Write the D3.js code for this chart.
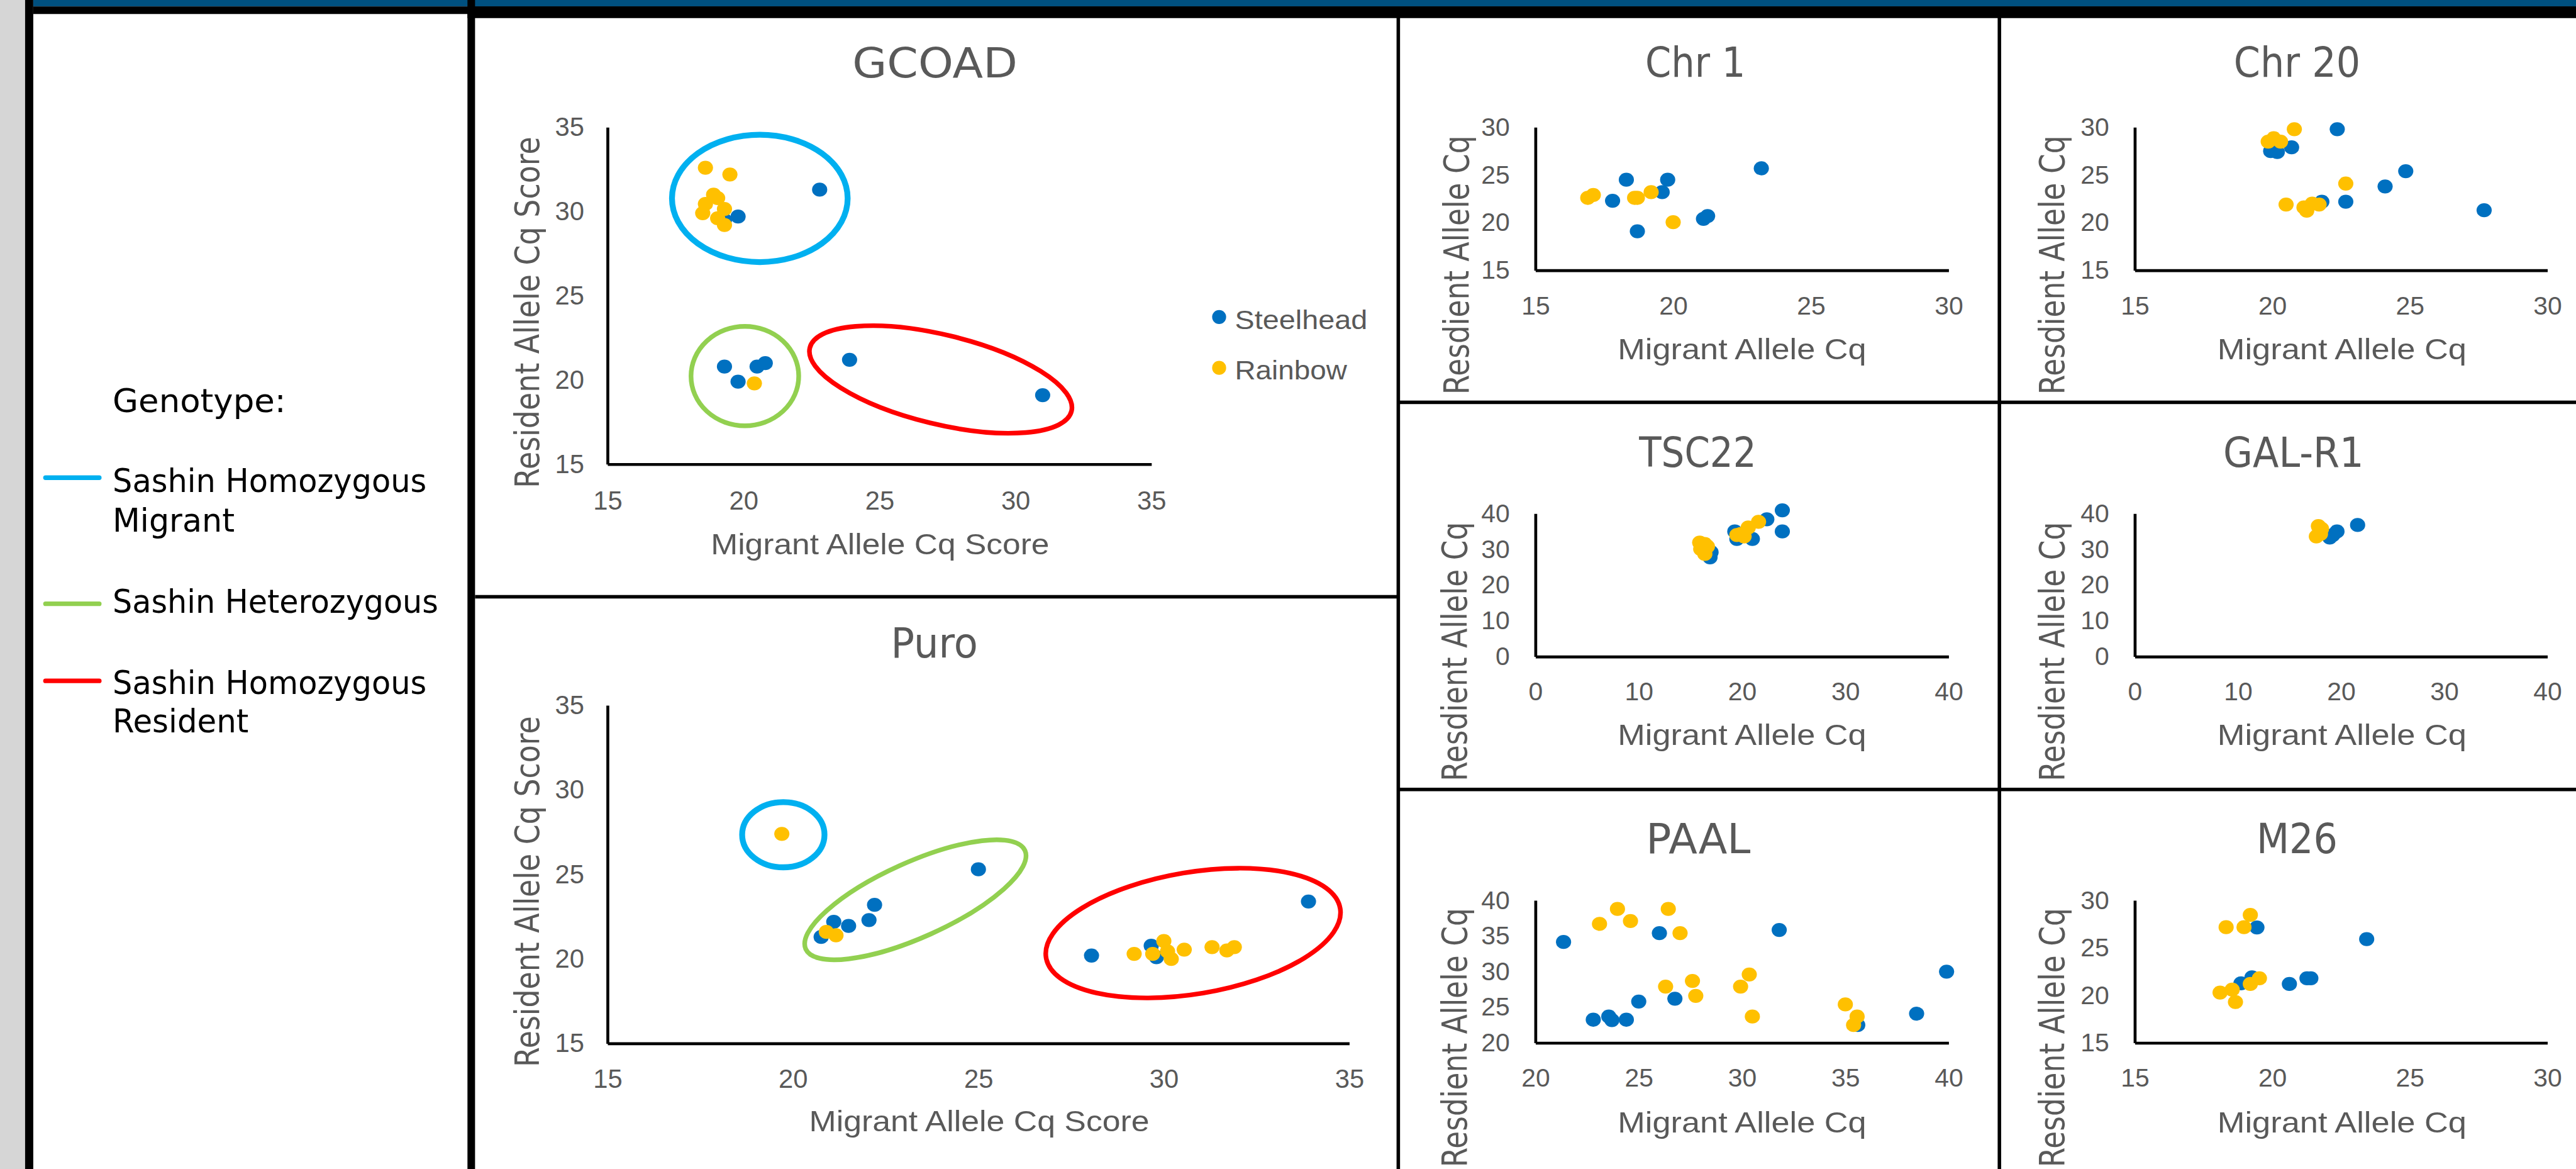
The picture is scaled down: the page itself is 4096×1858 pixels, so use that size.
<!DOCTYPE html>
<html>
<head>
<meta charset="utf-8">
<script src="https://cdn.jsdelivr.net/npm/d3@7"></script>
<style>
  html, body { margin: 0; padding: 0; background: #fff; overflow: hidden; }
  svg { display: block; }
</style>
</head>
<body>
<div id="chart"></div>
<script>
// ---- data ----
const seriesNames = ['Steelhead', 'Rainbow'];
const seriesColors = ['#0070c0', '#ffc000'];

const genotypeLabels = [['Sashin Homozygous', 'Migrant'], ['Sashin Heterozygous'], ['Sashin Homozygous', 'Resident']];
const genotypeColors = ['#00b0f0', '#92d050', '#ff0000'];

const ticks15to35 = [15, 20, 25, 30, 35];
const ticks15to30 = [15, 20, 25, 30];
const ticks0to40 = [0, 10, 20, 30, 40];
const ticks20to40 = [20, 25, 30, 35, 40];

const gcoadSteelhead = [[22.8, 31.3], [19.8, 29.7], [19.3, 29.5], [19.3, 20.8], [19.8, 19.9], [20.5, 20.8], [20.8, 21.0], [23.9, 21.2], [31.0, 19.1]];
const gcoadRainbow = [[18.6, 32.6], [19.5, 32.2], [18.9, 31.0], [19.05, 30.8], [18.6, 30.45], [18.5, 29.9], [19.3, 30.15], [19.05, 29.6], [19.3, 29.2], [20.4, 19.8]];
// genotype rings: centre, radii (data units), tilt in degrees
const gcoadGroups = [
  { g: 0, cx: 20.6, cy: 30.78, rx: 3.23, ry: 3.78, angle: 0 },
  { g: 1, cx: 20.05, cy: 20.23, rx: 1.98, ry: 2.95, angle: 0 },
  { g: 2, cx: 27.25, cy: 20.03, rx: 4.95, ry: 2.65, angle: 13.6 }
];

const puroSteelhead = [[25.0, 25.3], [22.2, 23.2], [22.05, 22.3], [21.5, 21.95], [21.1, 22.2], [20.76, 21.3], [28.05, 20.2], [29.66, 20.78], [29.8, 20.1], [33.9, 23.4]];
const puroRainbow = [[19.7, 27.4], [20.9, 21.6], [21.16, 21.4], [29.2, 20.3], [29.7, 20.3], [30.0, 21.06], [30.1, 20.45], [30.2, 20.0], [30.55, 20.55], [31.3, 20.7], [31.7, 20.5], [31.9, 20.7]];
const puroGroups = [
  { g: 0, cx: 19.74, cy: 27.35, rx: 1.11, ry: 1.93, angle: 0 },
  { g: 1, cx: 23.3, cy: 23.5, rx: 3.24, ry: 2.22, angle: -24.2 },
  { g: 2, cx: 30.79, cy: 21.53, rx: 4.02, ry: 3.6, angle: -9.5 }
];

const chr1Steelhead = [[23.2, 25.7], [18.3, 24.5], [19.8, 24.5], [19.6, 23.2], [17.8, 22.3], [18.7, 19.1], [21.1, 20.4], [21.25, 20.7]];
const chr1Rainbow = [[16.9, 22.6], [17.1, 22.9], [18.6, 22.6], [18.7, 22.6], [19.2, 23.2], [20.0, 20.05]];

const chr20Steelhead = [[22.36, 29.8], [19.94, 27.5], [20.18, 27.4], [20.7, 27.9], [24.85, 25.4], [24.1, 23.8], [22.67, 22.2], [21.8, 22.2], [27.7, 21.3]];
const chr20Rainbow = [[20.8, 29.8], [19.85, 28.5], [20.05, 28.85], [20.3, 28.5], [22.67, 24.1], [20.5, 21.9], [21.15, 21.6], [21.25, 21.25], [21.45, 22.0], [21.7, 21.9]];

const tsc22Steelhead = [[23.9, 40.9], [23.9, 35.0], [22.4, 38.4], [19.3, 35.0], [19.5, 32.9], [21.0, 32.9], [16.9, 27.75], [17.0, 29.2]];
const tsc22Rainbow = [[21.6, 37.7], [20.6, 36.1], [19.9, 34.3], [20.2, 33.6], [19.5, 34.0], [15.9, 31.9], [16.4, 31.5], [16.0, 30.1], [16.4, 28.7], [16.65, 30.8]];

const galr1Steelhead = [[21.6, 36.8], [19.6, 35.0], [18.9, 33.3], [19.2, 34.0]];
const galr1Rainbow = [[17.6, 33.6], [18.1, 35.75], [17.8, 36.5], [18.0, 34.3]];

const paalSteelhead = [[21.36, 34.16], [26.0, 35.4], [31.8, 35.85], [39.9, 30.0], [25.0, 25.8], [26.75, 26.2], [22.8, 23.25], [23.55, 23.7], [23.7, 23.2], [24.4, 23.25], [38.45, 24.1], [35.6, 22.5]];
const paalRainbow = [[23.97, 38.8], [26.43, 38.8], [23.1, 36.7], [24.6, 37.1], [27.0, 35.4], [30.35, 29.6], [29.93, 27.9], [27.6, 28.7], [26.3, 27.9], [27.76, 26.6], [30.5, 23.7], [35.0, 25.4], [35.57, 23.7], [35.4, 22.5]];

const m26Steelhead = [[23.43, 25.93], [19.44, 27.15], [19.26, 21.9], [18.86, 21.27], [20.62, 21.2], [21.26, 21.8], [21.4, 21.8]];
const m26Rainbow = [[19.2, 28.47], [18.32, 27.18], [18.97, 27.18], [19.53, 21.8], [19.2, 21.2], [18.1, 20.3], [18.54, 20.6], [18.66, 19.3]];

// ---- layout (reference pixels, the viewBox scales it down) ----
const W = 4414, H = 2002;
const gray = '#595959';

const svg = d3.select('#chart').append('svg')
  .attr('width', 4096)
  .attr('height', 1858)
  .attr('viewBox', `0 0 ${W} ${H}`)
  .attr('preserveAspectRatio', 'none');

// frame
svg.append('rect').attr('width', W).attr('height', H).attr('fill', '#fff');
svg.append('rect').attr('x', 0).attr('y', 0).attr('width', 43).attr('height', H).attr('fill', '#d6d6d6');
svg.append('rect').attr('x', 43).attr('y', 0).attr('width', 14).attr('height', H).attr('fill', '#000');
svg.append('rect').attr('x', 57).attr('y', 0).attr('width', W - 57).attr('height', 11).attr('fill', '#00507f');
svg.append('rect').attr('x', 57).attr('y', 11).attr('width', W - 57).attr('height', 13).attr('fill', '#000');
svg.append('rect').attr('x', 801).attr('y', 11).attr('width', W - 801).attr('height', 20).attr('fill', '#000');
svg.append('rect').attr('x', 801).attr('y', 0).attr('width', 13).attr('height', H).attr('fill', '#000');
svg.append('rect').attr('x', 2393).attr('y', 24).attr('width', 6).attr('height', H).attr('fill', '#000');
svg.append('rect').attr('x', 814).attr('y', 1019).attr('width', 1582).attr('height', 6).attr('fill', '#000');
svg.append('rect').attr('x', 3423).attr('y', 24).attr('width', 6).attr('height', H).attr('fill', '#000');
svg.append('rect').attr('x', 2396).attr('y', 686).attr('width', W - 2396).attr('height', 6).attr('fill', '#000');
svg.append('rect').attr('x', 2396).attr('y', 1349).attr('width', W - 2396).attr('height', 6).attr('fill', '#000');

// genotype legend panel
const leg = svg.append('g').attr('font-family', "'DejaVu Sans', sans-serif").attr('font-size', 56).attr('fill', '#000');
leg.append('text').attr('x', 193).attr('y', 706).attr('textLength', 297).attr('lengthAdjust', 'spacingAndGlyphs').text('Genotype:');

const legendRows = [
  { lineY: 818, lines: [[843, 538], [910, 209]] },
  { lineY: 1034, lines: [[1050, 558]] },
  { lineY: 1166, lines: [[1188, 538], [1254, 233]] }
];
legendRows.forEach((row, i) => {
  leg.append('line')
    .attr('x1', 78).attr('x2', 170)
    .attr('y1', row.lineY).attr('y2', row.lineY)
    .attr('stroke', genotypeColors[i])
    .attr('stroke-width', 8)
    .attr('stroke-linecap', 'round');
  genotypeLabels[i].forEach((t, j) => {
    leg.append('text')
      .attr('x', 193)
      .attr('y', row.lines[j][0])
      .attr('textLength', row.lines[j][1])
      .attr('lengthAdjust', 'spacingAndGlyphs')
      .text(t);
  });
});

// ---- scatter panels ----
const charts = [
  { title: 'GCOAD', steel: gcoadSteelhead, rain: gcoadRainbow, groups: gcoadGroups,
    xd: [15, 35], yd: [15, 35], xt: ticks15to35, yt: ticks15to35,
    xr: [1041, 1973], yr: [795, 218], tickFs: 45, padX: 46, padY: 40,
    titleX: 1602, titleY: 133, titleLen: 283,
    xTitle: 'Migrant Allele Cq Score', xTitleX: 1508, xTitleY: 949, xTitleLen: 580,
    yTitle: 'Resident Allele Cq Score', yTitleX: 924, yTitleY: 535, yTitleLen: 602, yTitleFs: 57,
    legend: true },
  { title: 'Puro', steel: puroSteelhead, rain: puroRainbow, groups: puroGroups,
    xd: [15, 35], yd: [15, 35], xt: ticks15to35, yt: ticks15to35,
    xr: [1041, 2312], yr: [1787, 1208], tickFs: 45, padX: 44, padY: 40,
    titleX: 1601, titleY: 1126, titleLen: 149,
    xTitle: 'Migrant Allele Cq Score', xTitleX: 1678, xTitleY: 1937, xTitleLen: 583,
    yTitle: 'Resident Allele Cq Score', yTitleX: 924, yTitleY: 1527, yTitleLen: 601, yTitleFs: 57 },
  { title: 'Chr 1', steel: chr1Steelhead, rain: chr1Rainbow,
    xd: [15, 30], yd: [15, 30], xt: ticks15to30, yt: ticks15to30,
    xr: [2631, 3339], yr: [463, 218], tickFs: 44, padX: 44, padY: 44,
    titleX: 2905, titleY: 132, titleLen: 172,
    xTitle: 'Migrant Allele Cq', xTitleX: 2985, xTitleY: 615, xTitleLen: 426,
    yTitle: 'Resdient Allele Cq', yTitleX: 2516, yTitleY: 454, yTitleLen: 444, yTitleFs: 59 },
  { title: 'Chr 20', steel: chr20Steelhead, rain: chr20Rainbow,
    xd: [15, 30], yd: [15, 30], xt: ticks15to30, yt: ticks15to30,
    xr: [3658, 4365], yr: [463, 218], tickFs: 44, padX: 44, padY: 44,
    titleX: 3936, titleY: 132, titleLen: 217,
    xTitle: 'Migrant Allele Cq', xTitleX: 4013, xTitleY: 615, xTitleLen: 427,
    yTitle: 'Resdient Allele Cq', yTitleX: 3537, yTitleY: 454, yTitleLen: 444, yTitleFs: 59 },
  { title: 'TSC22', steel: tsc22Steelhead, rain: tsc22Rainbow,
    xd: [0, 40], yd: [0, 40], xt: ticks0to40, yt: ticks0to40,
    xr: [2631, 3339], yr: [1124.5, 879.5], tickFs: 44, padX: 44, padY: 44,
    titleX: 2909, titleY: 799, titleLen: 201,
    xTitle: 'Migrant Allele Cq', xTitleX: 2985, xTitleY: 1276, xTitleLen: 426,
    yTitle: 'Resdient Allele Cq', yTitleX: 2513, yTitleY: 1116, yTitleLen: 444, yTitleFs: 59 },
  { title: 'GAL-R1', steel: galr1Steelhead, rain: galr1Rainbow,
    xd: [0, 40], yd: [0, 40], xt: ticks0to40, yt: ticks0to40,
    xr: [3658, 4365], yr: [1124.5, 879.5], tickFs: 44, padX: 44, padY: 44,
    titleX: 3930, titleY: 799, titleLen: 241,
    xTitle: 'Migrant Allele Cq', xTitleX: 4013, xTitleY: 1276, xTitleLen: 427,
    yTitle: 'Resdient Allele Cq', yTitleX: 3537, yTitleY: 1116, yTitleLen: 444, yTitleFs: 59 },
  { title: 'PAAL', steel: paalSteelhead, rain: paalRainbow,
    xd: [20, 40], yd: [20, 40], xt: ticks20to40, yt: ticks20to40,
    xr: [2631, 3339], yr: [1786, 1542], tickFs: 44, padX: 44, padY: 44,
    titleX: 2910, titleY: 1461, titleLen: 179,
    xTitle: 'Migrant Allele Cq', xTitleX: 2985, xTitleY: 1939, xTitleLen: 426,
    yTitle: 'Resdient Allele Cq', yTitleX: 2513, yTitleY: 1777, yTitleLen: 444, yTitleFs: 59 },
  { title: 'M26', steel: m26Steelhead, rain: m26Rainbow,
    xd: [15, 30], yd: [15, 30], xt: ticks15to30, yt: ticks15to30,
    xr: [3658, 4365], yr: [1786, 1542], tickFs: 44, padX: 44, padY: 44,
    titleX: 3936, titleY: 1461, titleLen: 139,
    xTitle: 'Migrant Allele Cq', xTitleX: 4013, xTitleY: 1939, xTitleLen: 427,
    yTitle: 'Resdient Allele Cq', yTitleX: 3537, yTitleY: 1777, yTitleLen: 444, yTitleFs: 59 }
];

charts.forEach(c => {
  const x = d3.scaleLinear().domain(c.xd).range(c.xr);
  const y = d3.scaleLinear().domain(c.yd).range(c.yr);
  const g = svg.append('g');

  // title
  g.append('text')
    .attr('x', c.titleX).attr('y', c.titleY)
    .attr('text-anchor', 'middle')
    .attr('font-family', "'DejaVu Sans', sans-serif")
    .attr('font-size', 70)
    .attr('fill', gray)
    .attr('textLength', c.titleLen)
    .attr('lengthAdjust', 'spacingAndGlyphs')
    .text(c.title);

  // axes
  const xAxis = g.append('g')
    .attr('transform', `translate(0,${c.yr[0]})`)
    .call(d3.axisBottom(x).tickValues(c.xt).tickSize(0).tickSizeOuter(0).tickPadding(c.padX));
  const yAxis = g.append('g')
    .attr('transform', `translate(${c.xr[0]},0)`)
    .call(d3.axisLeft(y).tickValues(c.yt).tickSize(0).tickSizeOuter(0).tickPadding(c.padY));
  [xAxis, yAxis].forEach(a => {
    a.select('.domain').attr('stroke', '#000').attr('stroke-width', 5);
    a.selectAll('text')
      .attr('font-family', "'Liberation Sans', Arial, sans-serif")
      .attr('font-size', c.tickFs)
      .attr('fill', gray);
  });
  xAxis.selectAll('text').attr('dy', '0.71em');

  // axis titles
  g.append('text')
    .attr('x', c.xTitleX).attr('y', c.xTitleY)
    .attr('text-anchor', 'middle')
    .attr('font-family', "'Liberation Sans', Arial, sans-serif")
    .attr('font-size', 50)
    .attr('fill', gray)
    .attr('textLength', c.xTitleLen)
    .attr('lengthAdjust', 'spacingAndGlyphs')
    .text(c.xTitle);

  g.append('text')
    .attr('transform', `translate(${c.yTitleX},${c.yTitleY}) rotate(-90)`)
    .attr('text-anchor', 'middle')
    .attr('font-family', "'DejaVu Sans', sans-serif")
    .attr('font-size', c.yTitleFs)
    .attr('fill', gray)
    .attr('textLength', c.yTitleLen)
    .attr('lengthAdjust', 'spacingAndGlyphs')
    .text(c.yTitle);

  // points: steelhead first, rainbow drawn on top
  [c.steel, c.rain].forEach((pts, s) => {
    g.append('g').selectAll('ellipse')
      .data(pts)
      .join('ellipse')
      .attr('cx', d => x(d[0]))
      .attr('cy', d => y(d[1]))
      .attr('rx', 13)
      .attr('ry', 12)
      .attr('fill', seriesColors[s]);
  });

  // genotype rings
  if (c.groups) {
    g.append('g').selectAll('ellipse')
      .data(c.groups)
      .join('ellipse')
      .attr('cx', d => x(d.cx))
      .attr('cy', d => y(d.cy))
      .attr('rx', d => Math.abs(x(d.cx + d.rx) - x(d.cx)))
      .attr('ry', d => Math.abs(y(d.cy + d.ry) - y(d.cy)))
      .attr('transform', d => `rotate(${d.angle},${x(d.cx)},${y(d.cy)})`)
      .attr('fill', 'none')
      .attr('stroke', d => genotypeColors[d.g])
      .attr('stroke-width', d => d.g === 0 ? 10 : 8);
  }

  // series legend (only on GCOAD)
  if (c.legend) {
    const lg = g.append('g');
    const legendLens = [227, 192];
    seriesNames.forEach((name, i) => {
      const yy = 543 + i * 87;
      lg.append('ellipse')
        .attr('cx', 2089).attr('cy', yy)
        .attr('rx', 12).attr('ry', 12)
        .attr('fill', seriesColors[i]);
      lg.append('text')
        .attr('x', 2116).attr('y', yy + 20)
        .attr('font-family', "'Liberation Sans', Arial, sans-serif")
        .attr('font-size', 46)
        .attr('fill', gray)
        .attr('textLength', legendLens[i])
        .attr('lengthAdjust', 'spacingAndGlyphs')
        .text(name);
    });
  }
});
</script>
</body>
</html>
